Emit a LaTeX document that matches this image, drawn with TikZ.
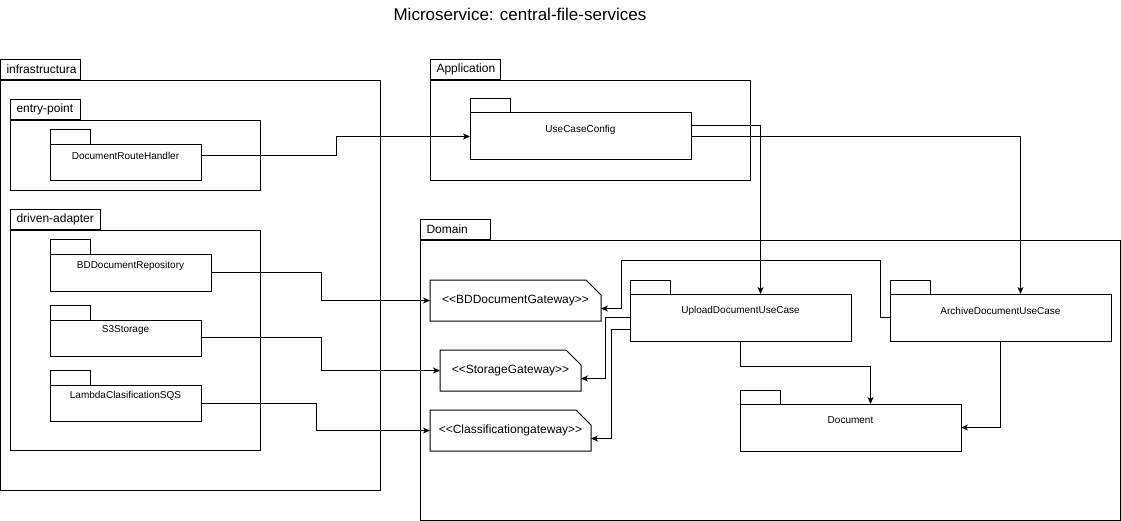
\documentclass[tikz,border=0pt]{standalone}
\usepackage{fontspec}
\setmainfont{Liberation Sans}[Ligatures=TeXOff]
\usepackage{tikz}
\usetikzlibrary{arrows.meta, positioning}

\begin{document}
\begin{tikzpicture}[x=1pt, y=-1pt, >={Stealth[length=7pt, width=6pt, inset=2pt]}, line width=1pt,
		pkgbody/.style={draw, anchor=north west, inner sep=0pt},
		pkgname/.style={draw, anchor=south west, minimum height=20pt, inner xsep=6pt, inner ysep=0pt, align=left, font=\fontsize{12}{14}\selectfont},
		unit/.style={anchor=north west, inner sep=0pt, font=\fontsize{10}{12}\selectfont},
		gateway/.style={anchor=north west, inner sep=0pt, minimum height=40pt, font=\fontsize{12}{14}\selectfont}]
		\useasboundingbox (0,0) rectangle (1121,521);

		\node[font=\fontsize{17}{20}\selectfont] (title) at (520,14) {Microservice: central-file-services};

		\node[pkgbody, minimum width=380pt, minimum height=410pt] (Infra) at (0,80) {};
		\node[pkgname, text width=68pt] (InfraTab) at (Infra.north west) {\mbox{infrastructura}};

		\node[pkgbody, minimum width=250pt, minimum height=70pt] (EntryPoint) at (10,120) {};
		\node[pkgname, text width=58pt] (EntryPointTab) at (EntryPoint.north west) {\mbox{entry-point}};

		\node[pkgbody, minimum width=250pt, minimum height=220pt] (DrivenAdapter) at (10,230) {};
		\node[pkgname, text width=78pt] (DrivenAdapterTab) at (DrivenAdapter.north west) {\mbox{driven-adapter}};

		\node[pkgbody, minimum width=320pt, minimum height=100pt] (Application) at (430,80) {};
		\node[pkgname, text width=58pt] (ApplicationTab) at (Application.north west) {\mbox{Application}};

		\node[pkgbody, minimum width=700pt, minimum height=280pt] (Domain) at (420,240) {};
		\node[pkgname, text width=58pt] (DomainTab) at (Domain.north west) {\mbox{Domain}};

		\node[unit, minimum width=150pt, minimum height=50pt] (RouteHandler) at (50,130) {DocumentRouteHandler};
		\node[unit, minimum width=160pt, minimum height=50pt] (BDRepository) at (50,240) {BDDocumentRepository};
		\node[unit, minimum width=150pt, minimum height=50pt] (S3Storage) at (50,305) {S3Storage};
		\node[unit, minimum width=150pt, minimum height=50pt] (LambdaSQS) at (50,370) {LambdaClasificationSQS};
		\node[unit, minimum width=220pt, minimum height=60pt] (UseCaseConfig) at (470,99) {UseCaseConfig};
		\node[unit, minimum width=220pt, minimum height=60pt] (UploadUC) at (630,280) {UploadDocumentUseCase};
		\node[unit, minimum width=220pt, minimum height=60pt] (ArchiveUC) at (890,280) {ArchiveDocumentUseCase};
		\node[unit, minimum width=220pt, minimum height=60pt] (Document) at (740,390) {Document};

		\foreach \n/\t in {RouteHandler/15, BDRepository/15, S3Storage/15, LambdaSQS/15,
				UseCaseConfig/14, UploadUC/14, ArchiveUC/14, Document/14} {
			\draw (\n.north west) rectangle ++(40,\t);
			\draw (\n.north west) ++(0,\t) rectangle (\n.south east);
		}

		\node[gateway, minimum width=170pt] (BDGateway) at (430,280) {<<BDDocumentGateway>>};
		\node[gateway, minimum width=140pt] (StorageGateway) at (440,350) {<<StorageGateway>>};
		\node[gateway, minimum width=160pt] (ClassGateway) at (430,410) {<<Classificationgateway>>};

		\foreach \n in {BDGateway, StorageGateway, ClassGateway}
			\draw (\n.north west) -- ([xshift=-15pt]\n.north east) -- ([yshift=-15pt]\n.north east)
				-- (\n.south east) -- (\n.south west) -- cycle;

		\draw[->] (RouteHandler.east) -- ++(135,0) |- ([yshift=-7pt]UseCaseConfig.west);
		\draw[->] ([yshift=4pt]UseCaseConfig.east) -| ([xshift=20pt, yshift=-14pt]UploadUC.north);
		\draw[->] ([yshift=-7pt]UseCaseConfig.east) -| ([xshift=20pt, yshift=-14pt]ArchiveUC.north);

		\draw[->] ([yshift=-7pt]BDRepository.east) -- ++(110,0) |- (BDGateway.west);
		\draw[->] ([yshift=-7pt]S3Storage.east) -- ++(120,0) |- (StorageGateway.west);
		\draw[->] ([yshift=-8pt]LambdaSQS.east) -- ++(115,0) |- (ClassGateway.west);

		\draw[->] ([yshift=-7pt]ArchiveUC.west) -- ++(-10,0) -- ++(0,-57)
			-| ([xshift=20pt, yshift=-8pt]BDGateway.east) -- ([yshift=-8pt]BDGateway.east);
		\draw[->] ([yshift=-7pt]UploadUC.west) -- ++(-25,0) |- ([yshift=-8pt]StorageGateway.east);
		\draw[->] ([yshift=-19pt]UploadUC.west) -- ++(-19,0) |- ([yshift=-8pt]ClassGateway.east);

		\draw[->] (UploadUC.south) -- ++(0,25) -| ([xshift=20pt, yshift=-14pt]Document.north);
		\draw[->] (ArchiveUC.south) |- ([yshift=-7pt]Document.east);
	\end{tikzpicture}
\end{document}
